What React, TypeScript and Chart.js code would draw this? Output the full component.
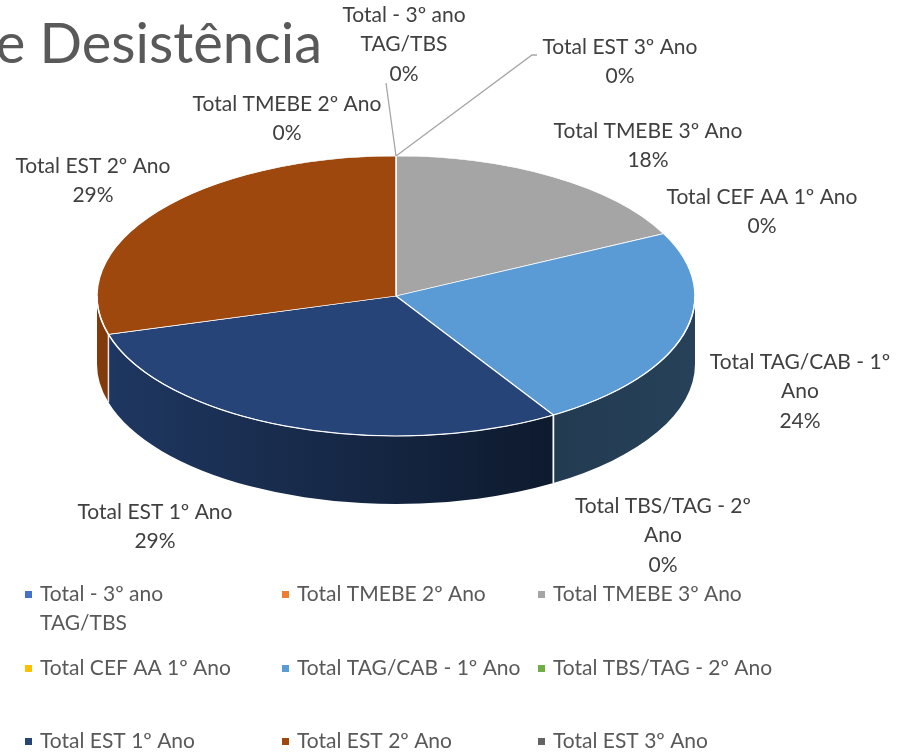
import React, { useEffect, useRef } from "react";
import { Chart, registerables } from "chart.js";

Chart.register(...registerables);

// ---------- data ----------
const categories = [
  "Total - 3º ano TAG/TBS",
  "Total TMEBE 2º Ano",
  "Total TMEBE 3º Ano",
  "Total CEF AA 1º Ano",
  "Total TAG/CAB - 1º Ano",
  "Total TBS/TAG - 2º Ano",
  "Total EST 1º Ano",
  "Total EST 2º Ano",
  "Total EST 3º Ano",
];
const desistencias = [0, 0, 3, 0, 4, 0, 5, 5, 0];
const sliceColors = [
  "#4472C4",
  "#ED7D31",
  "#A5A5A5",
  "#FFC000",
  "#5B9BD5",
  "#70AD47",
  "#264478",
  "#9E480E",
  "#636363",
];
const titleText = "e Desistência";

// ---------- layout ----------
const W = 897;
const H = 755;
const PIE = { cx: 396, cy: 296, rx: 299, ry: 140, depth: 68 };
const FONT = "Lato, 'Open Sans', sans-serif";
const labelLayout = [
  { x: 404, y: 15, wrap: 150 },
  { x: 287, y: 104, wrap: 300 },
  { x: 648, y: 131, wrap: 300 },
  { x: 762, y: 197, wrap: 300 },
  { x: 800, y: 362, wrap: 195 },
  { x: 663, y: 506, wrap: 195 },
  { x: 155, y: 512, wrap: 300 },
  { x: 93, y: 166, wrap: 300 },
  { x: 620, y: 47, wrap: 300 },
];
const leaderEnds: Record<number, [number, number][]> = {
  0: [[386, 83]],
  8: [[532, 55], [537, 55]],
};
const legendCols = [25, 282, 538];
const legendRows = [594, 668, 741];
const legendWrap = [160, 260, 260, 260, 260, 260, 260, 260, 260];

function shade(hex: string, f: number) {
  const n = parseInt(hex.slice(1), 16);
  const r = Math.round(((n >> 16) & 255) * f);
  const g = Math.round(((n >> 8) & 255) * f);
  const b = Math.round((n & 255) * f);
  return `rgb(${r},${g},${b})`;
}

function wrapText(ctx: CanvasRenderingContext2D, text: string, maxW: number) {
  const words = text.split(" ");
  const lines: string[] = [];
  let cur = "";
  for (const w of words) {
    const test = cur ? cur + " " + w : w;
    if (cur && ctx.measureText(test).width > maxW) {
      lines.push(cur);
      cur = w;
    } else cur = test;
  }
  if (cur) lines.push(cur);
  return lines;
}

const pie3d = {
  id: "pie3d",
  beforeDatasetsDraw(chart: any) {
    const ctx: CanvasRenderingContext2D = chart.ctx;
    const arcs = chart.getDatasetMeta(0).data;
    const { cx, cy, rx, ry, depth } = PIE;
    // side walls
    arcs.forEach((arc: any, i: number) => {
      const { startAngle, endAngle } = arc.getProps(["startAngle", "endAngle"], true);
      if (endAngle - startAngle <= 0) return;
      for (const off of [0, 2 * Math.PI]) {
        const s = Math.max(startAngle - off, 0);
        const e = Math.min(endAngle - off, Math.PI);
        if (e <= s) continue;
        const grad = ctx.createLinearGradient(cx - rx, 0, cx + rx, 0);
        const base = sliceColors[i];
        grad.addColorStop(0, shade(base, 0.82));
        grad.addColorStop(0.76, shade(base, 0.38));
        grad.addColorStop(1, shade(base, 0.42));
        ctx.beginPath();
        ctx.ellipse(cx, cy, rx, ry, 0, s, e, false);
        ctx.ellipse(cx, cy + depth, rx, ry, 0, e, s, true);
        ctx.closePath();
        ctx.fillStyle = grad;
        ctx.fill();
      }
    });
    // separators on wall
    ctx.save();
    ctx.strokeStyle = "rgba(255,255,255,0.85)";
    ctx.lineWidth = 1.5;
    arcs.forEach((arc: any) => {
      const { endAngle } = arc.getProps(["endAngle"], true);
      let a = endAngle;
      if (a > 2 * Math.PI) a -= 2 * Math.PI;
      if (a > 0.02 && a < Math.PI - 0.02) {
        const x = cx + rx * Math.cos(a);
        const y = cy + ry * Math.sin(a);
        ctx.beginPath();
        ctx.moveTo(x, y);
        ctx.lineTo(x, y + depth);
        ctx.stroke();
      }
    });
    ctx.restore();
    // projection of the top face
    const ref = arcs[0];
    ctx.save();
    ctx.translate(cx, cy);
    ctx.scale(rx / ref.outerRadius, ry / ref.outerRadius);
    ctx.translate(-ref.x, -ref.y);
  },
  afterDatasetsDraw(chart: any) {
    const ctx: CanvasRenderingContext2D = chart.ctx;
    ctx.restore();
    const arcs = chart.getDatasetMeta(0).data;
    const { cx, cy, rx, ry } = PIE;
    // front rim
    ctx.save();
    ctx.strokeStyle = "rgba(255,255,255,0.9)";
    ctx.lineWidth = 1.2;
    ctx.beginPath();
    ctx.ellipse(cx, cy, rx, ry, 0, 0, Math.PI, false);
    ctx.stroke();
    ctx.restore();

    const total = desistencias.reduce((a, b) => a + b, 0);
    // leader lines
    ctx.save();
    ctx.strokeStyle = "#A6A6A6";
    ctx.lineWidth = 1.3;
    Object.keys(leaderEnds).forEach((k) => {
      const i = Number(k);
      const { startAngle, endAngle } = arcs[i].getProps(["startAngle", "endAngle"], true);
      const mid = (startAngle + endAngle) / 2;
      const x0 = cx + rx * Math.cos(mid);
      const y0 = cy + ry * Math.sin(mid);
      ctx.beginPath();
      ctx.moveTo(x0, y0);
      leaderEnds[i].forEach(([x, y]) => ctx.lineTo(x, y));
      ctx.stroke();
    });
    ctx.restore();

    // data labels
    ctx.save();
    ctx.font = `21px ${FONT}`;
    ctx.fillStyle = "#404040";
    ctx.textAlign = "center";
    ctx.textBaseline = "middle";
    categories.forEach((c, i) => {
      const L = labelLayout[i];
      const pct = Math.round((desistencias[i] / total) * 100) + "%";
      const lines = [...wrapText(ctx, c, L.wrap), pct];
      lines.forEach((ln, j) => ctx.fillText(ln, L.x, L.y + j * 29.5));
    });
    ctx.restore();

    // legend
    ctx.save();
    ctx.font = `21px ${FONT}`;
    ctx.textAlign = "left";
    ctx.textBaseline = "middle";
    categories.forEach((c, i) => {
      const x = legendCols[i % 3];
      const y = legendRows[Math.floor(i / 3)];
      ctx.fillStyle = sliceColors[i];
      ctx.fillRect(x, y - 3, 7, 7);
      ctx.fillStyle = "#595959";
      wrapText(ctx, c, legendWrap[i]).forEach((ln, j) => ctx.fillText(ln, x + 15, y + j * 29));
    });
    ctx.restore();

    // title (cropped at the left edge)
    ctx.save();
    ctx.font = `56px ${FONT}`;
    ctx.fillStyle = "#595959";
    ctx.textAlign = "right";
    ctx.textBaseline = "alphabetic";
    ctx.fillText(titleText, 322, 63);
    ctx.restore();
  },
};

export default function App() {
  const canvasRef = useRef<HTMLCanvasElement | null>(null);
  useEffect(() => {
    if (!canvasRef.current) return;
    const chart = new Chart(canvasRef.current, {
      type: "pie",
      data: {
        labels: categories,
        datasets: [
          {
            data: desistencias,
            backgroundColor: sliceColors,
            borderColor: "#FFFFFF",
            borderWidth: 1.5,
            hoverOffset: 0,
            offset: 0,
          },
        ],
      },
      options: {
        responsive: false,
        animation: false,
        devicePixelRatio: 1,
        events: [],
        layout: { padding: { left: 97, right: 202, top: 0, bottom: 157 } },
        plugins: {
          legend: { display: false },
          tooltip: { enabled: false },
          title: { display: false },
        },
      },
      plugins: [pie3d],
    });
    return () => chart.destroy();
  }, []);
  return (
    <div style={{ position: "fixed", left: 0, top: 0, width: W, height: H, background: "#fff" }}>
      <canvas ref={canvasRef} width={W} height={H} style={{ display: "block" }} />
    </div>
  );
}
